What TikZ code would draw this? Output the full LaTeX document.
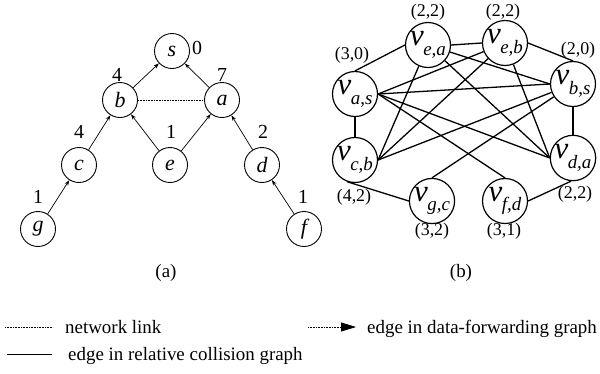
\documentclass[tikz,border=0pt]{standalone}
\usepackage{fontspec}
\setmainfont{Liberation Serif}
\usetikzlibrary{arrows.meta}
\newcommand{\vsub}[1]{{\fontsize{31}{31}\selectfont\itshape v}\kern-0.5bp\raisebox{-9.5bp}{\fontsize{19}{19}\selectfont\itshape #1}}
\tikzset{
  lnode/.style={circle,draw,line width=0.9bp,minimum size=35bp,inner sep=0pt,font=\fontsize{22}{22}\selectfont\itshape},
  rnode/.style={circle,draw,line width=1.2bp,minimum size=45bp,inner sep=0pt},
  lnum/.style={inner sep=0pt,font=\fontsize{20}{20}\selectfont},
  rnum/.style={inner sep=0pt,font=\fontsize{18}{18}\selectfont},
  fwd/.style={line width=0.7bp,-{Stealth[length=5.5bp,width=3.8bp]}},
  netlink/.style={line width=0.8bp,dash pattern=on 0.8bp off 0.8bp},
  coll/.style={line width=1.3bp},
  legtext/.style={inner sep=0pt,anchor=base west,font=\fontsize{19}{19}\selectfont},
  captext/.style={inner sep=0pt,font=\fontsize{19}{19}\selectfont}
}
\begin{document}
\begin{tikzpicture}[x=1bp,y=-1bp]
\useasboundingbox (0,0) rectangle (600,373);
% ---- (a) data-forwarding graph
\node[lnode] (s) at (172,51) {s};
\node[lnode] (b) at (120,100) {b};
\node[lnode] (a) at (222,100) {a};
\node[lnode] (c) at (79,165) {c};
\node[lnode] (e) at (170,165) {e};
\node[lnode] (d) at (262,165) {d};
\node[lnode] (g) at (38,229) {g};
\node[lnode] (f) at (304,229) {f};
\node[lnum] (ns) at (197,48) {0};
\node[lnum] (nb) at (117,75) {4};
\node[lnum] (na) at (222,75) {7};
\node[lnum] (nc) at (79,132) {4};
\node[lnum] (ne) at (171,132) {1};
\node[lnum] (nd) at (263,132) {2};
\node[lnum] (ng) at (38,197) {1};
\node[lnum] (nf) at (303,197) {1};
\draw[fwd] (g) -- (c);
\draw[fwd] (c) -- (b);
\draw[fwd] (e) -- (b);
\draw[fwd] (e) -- (a);
\draw[fwd] (b) -- (s);
\draw[fwd] (a) -- (s);
\draw[fwd] (d) -- (a);
\draw[fwd] (f) -- (d);
\draw[netlink] (b) -- (a);
\node[captext] (capa) at (166,273) {(a)};
% ---- (b) relative collision graph
\node[rnode] (vea) at (428,45) {\vsub{e,a}};
\node[rnode] (veb) at (505,43) {\vsub{e,b}};
\node[rnode] (vas) at (355,94) {\vsub{a,s}};
\node[rnode] (vbs) at (573,84) {\vsub{b,s}};
\node[rnode] (vcb) at (355,160) {\vsub{c,b}};
\node[rnode] (vda) at (573,158) {\vsub{d,a}};
\node[rnode] (vgc) at (432,201) {\vsub{g,c}};
\node[rnode] (vfd) at (505,201) {\vsub{f,d}};
\node[rnum] (lea) at (428,12) {(2,2)};
\node[rnum] (leb) at (503,12) {(2,2)};
\node[rnum] (las) at (352,55) {(3,0)};
\node[rnum] (lbs) at (578,50) {(2,0)};
\node[rnum] (lcb) at (354,197) {(4,2)};
\node[rnum] (lda) at (575,194) {(2,2)};
\node[rnum] (lgc) at (432,231) {(3,2)};
\node[rnum] (lfd) at (504,231) {(3,1)};
\draw[coll] (vas.north) -- (vea.west);
\draw[coll] (vea.east) -- (veb.west);
\draw[coll] (veb.east) -- (vbs.north);
\draw[coll] (vas.south) -- (vcb.north);
\draw[coll] (vbs.south) -- (vda.north);
\draw[coll] (vcb.250) -- (vgc.west);
\draw[coll] (vfd.east) -- (vda.265);
\draw[coll] (vas.east) -- (veb);
\draw[coll] (vas.east) -- (vbs.west);
\draw[coll] (vas.east) -- (vda.west);
\draw[coll] (vas.east) -- (vfd.north);
\draw[coll] (vea) -- (vbs.west);
\draw[coll] (vea) -- (vda.west);
\draw[coll] (vea) -- (vcb.east);
\draw[coll] (veb) -- (vcb.east);
\draw[coll] (veb) -- (vda.west);
\draw[coll] (vbs) -- (vcb.east);
\draw[coll] (vbs) -- (vgc.north);
\node[captext] (capb) at (461,273) {(b)};
% ---- legend
\coordinate (l1a) at (5,327);
\coordinate (l1b) at (53,327);
\draw[netlink] (l1a) -- (l1b);
\node[legtext] (t1) at (65,333) {network link};
\coordinate (l2a) at (308,327);
\coordinate (l2b) at (356,327);
\draw[netlink,-{Triangle[length=15bp,width=9bp]}] (l2a) -- (l2b);
\node[legtext] (t2) at (367,333) {edge in data-forwarding graph};
\coordinate (l3a) at (7,354);
\coordinate (l3b) at (52,354);
\draw[line width=0.9bp] (l3a) -- (l3b);
\node[legtext] (t3) at (68,360) {edge in relative collision graph};
\end{tikzpicture}
\end{document}
